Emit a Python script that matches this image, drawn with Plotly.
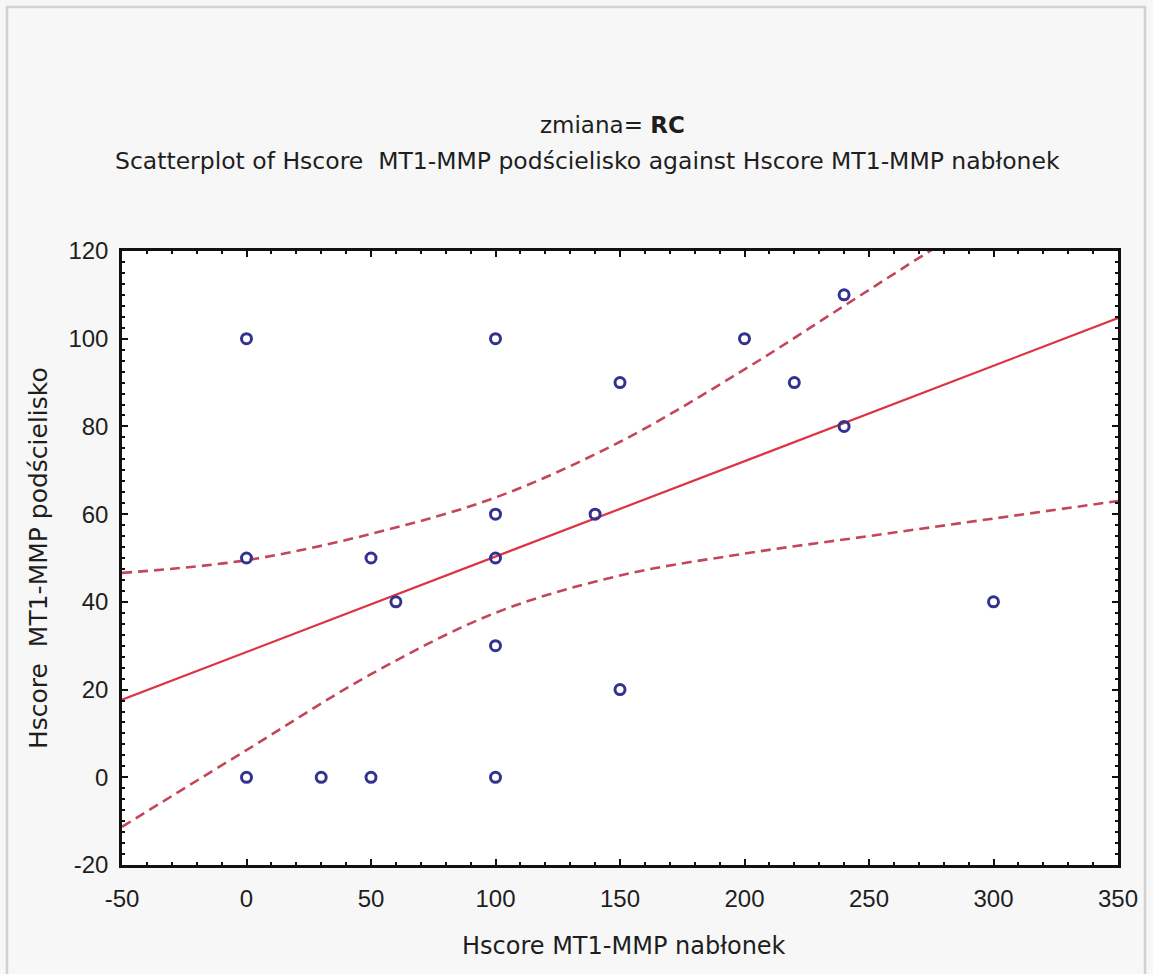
import plotly.graph_objects as go

# ---------------- data ----------------
x_nablonek = [0, 100, 150, 200, 220, 240, 240, 100, 140, 0, 50, 100, 60, 300, 100, 150, 0, 30, 50, 100]
y_podscielisko = [100, 100, 90, 100, 90, 110, 80, 60, 60, 50, 50, 50, 40, 40, 30, 20, 0, 0, 0, 0]

fit_x = [-50, 350]
fit_y = [17.7, 104.7]

ci_upper_x = [-50, 0, 50, 100, 150, 200, 240, 275, 300, 350]
ci_upper_y = [46.6, 49.5, 55.5, 63.8, 76.5, 93.0, 107.5, 120.2, 129, 146]

ci_lower_x = [-50, 0, 50, 100, 150, 200, 250, 300, 350]
ci_lower_y = [-11.3, 6.2, 23.5, 37.5, 46.0, 51.0, 55.0, 59.0, 63.0]

x_ticks = [-50, 0, 50, 100, 150, 200, 250, 300, 350]
y_ticks = [-20, 0, 20, 40, 60, 80, 100, 120]

title_main = "zmiana= <b>RC</b>"
title_sub = "Scatterplot of Hscore  MT1-MMP podścielisko against Hscore MT1-MMP nabłonek"
x_title = "Hscore MT1-MMP nabłonek"
y_title = "Hscore  MT1-MMP podścielisko"

# ---------------- layout geometry ----------------
W, H = 1153, 974
L, R, T, B = 122, 1118, 251, 865


def px(xp):
    return (xp - L) / (R - L)


def py(yp):
    return (B - yp) / (B - T)


RED = "#dc3444"
RED_D = "#c4465a"
BLUE = "#33338f"
TXT = "#1e1e1e"

fig = go.Figure()

fig.add_trace(go.Scatter(
    x=ci_upper_x, y=ci_upper_y, mode="lines",
    line=dict(color=RED_D, width=2.6, dash="10px,6px", shape="spline", smoothing=1.0),
    hoverinfo="skip", showlegend=False))
fig.add_trace(go.Scatter(
    x=ci_lower_x, y=ci_lower_y, mode="lines",
    line=dict(color=RED_D, width=2.6, dash="10px,6px", shape="spline", smoothing=1.0),
    hoverinfo="skip", showlegend=False))
fig.add_trace(go.Scatter(
    x=fit_x, y=fit_y, mode="lines",
    line=dict(color=RED, width=2.2),
    hoverinfo="skip", showlegend=False))
fig.add_trace(go.Scatter(
    x=x_nablonek, y=y_podscielisko, mode="markers",
    marker=dict(symbol="circle-open", size=10, color=BLUE, line=dict(width=3, color=BLUE)),
    cliponaxis=False, showlegend=False))

axis_common = dict(
    showgrid=False, zeroline=False, showline=True, linecolor="#111111", linewidth=2.5,
    mirror="ticks", ticks="inside", ticklen=6, tickwidth=2, tickcolor="#111111",
    tickfont=dict(family="Liberation Sans, Arial, sans-serif", size=24, color=TXT),
)

fig.update_xaxes(
    range=[-50, 350], tickmode="array", tickvals=x_ticks,
    ticktext=[str(v) for v in x_ticks],
    minor=dict(dtick=10, ticks="inside", ticklen=3, tickwidth=1.5, tickcolor="#111111"),
    ticklabelstandoff=10,
    **axis_common)
fig.update_yaxes(
    range=[-20, 120], tickmode="array", tickvals=y_ticks,
    ticktext=[str(v) for v in y_ticks],
    minor=dict(dtick=2.5, ticks="inside", ticklen=3, tickwidth=1.5, tickcolor="#111111"),
    ticklabelstandoff=6,
    **axis_common)

TFONT = "DejaVu Sans, Verdana, sans-serif"

annotations = [
    dict(text=title_main, x=px(612), y=py(125), xref="paper", yref="paper",
         showarrow=False, xanchor="center", yanchor="middle",
         font=dict(family=TFONT, size=23, color=TXT)),
    dict(text=title_sub, x=px(587), y=py(161), xref="paper", yref="paper",
         showarrow=False, xanchor="center", yanchor="middle",
         font=dict(family=TFONT, size=23.5, color=TXT)),
    dict(text=x_title, x=px(624), y=py(946), xref="paper", yref="paper",
         showarrow=False, xanchor="center", yanchor="middle",
         font=dict(family=TFONT, size=24, color=TXT)),
    dict(text=y_title, x=px(38), y=py(558), xref="paper", yref="paper",
         showarrow=False, xanchor="center", yanchor="middle", textangle=-90,
         font=dict(family=TFONT, size=25, color=TXT)),
]

frame_path = "M {x0},{yb} L {x0},{yt} L {x1},{yt} L {x1},{yb}".format(
    x0=px(7), x1=px(1145), yt=py(7), yb=py(990))

fig.update_layout(
    width=W, height=H, autosize=False,
    margin=dict(l=L, r=W - R, t=T, b=H - B, pad=0),
    paper_bgcolor="#f7f7f7", plot_bgcolor="#ffffff",
    showlegend=False,
    annotations=annotations,
    shapes=[dict(type="path", path=frame_path, xref="paper", yref="paper",
                 line=dict(color="#d2d2d2", width=2.5), layer="below")],
)

fig.write_html("out.html")
